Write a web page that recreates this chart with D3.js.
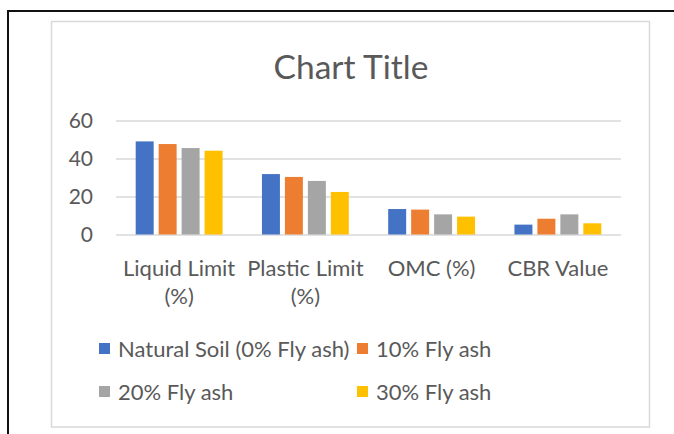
<!DOCTYPE html>
<html>
<head>
<meta charset="utf-8">
<script src="https://cdn.jsdelivr.net/npm/d3@7/dist/d3.min.js"></script>
<style>
  html, body { margin: 0; padding: 0; background: #fff; }
  svg { display: block; font-family: Lato, "Open Sans", sans-serif; }
</style>
</head>
<body>
<svg id="chart" width="674" height="434"></svg>
<script>
// Soil properties with increasing fly ash content
const categories = [["Liquid Limit", "(%)"], ["Plastic Limit", "(%)"], ["OMC (%)"], ["CBR Value"]];
const seriesNames = ["Natural Soil (0% Fly ash)", "10% Fly ash", "20% Fly ash", "30% Fly ash"];
const naturalSoil = [49.0, 31.8, 13.4, 5.2];
const flyAsh10 = [47.6, 30.3, 13.1, 8.3];
const flyAsh20 = [45.5, 28.2, 10.6, 10.6];
const flyAsh30 = [44.1, 22.4, 9.4, 5.9];
const yTicks = [0, 20, 40, 60];
const colors = ["#4472C4", "#ED7D31", "#A5A5A5", "#FFC000"];

const seriesValues = [naturalSoil, flyAsh10, flyAsh20, flyAsh30];
const catKeys = categories.map(c => c.join(" "));
const rows = catKeys.map((k, i) => ({ key: k, lines: categories[i], values: seriesValues.map(s => s[i]) }));

const svg = d3.select("#chart");
const textColor = "#595959";
const labelSize = 22;

// page frame
svg.append("path")
  .attr("d", "M8,434 V11 H674")
  .attr("fill", "none").attr("stroke", "#111").attr("stroke-width", 2);

// chart area border
svg.append("rect")
  .attr("x", 51.5).attr("y", 21.5).attr("width", 598).attr("height", 405.5)
  .attr("fill", "#fff").attr("stroke", "#D9D9D9").attr("stroke-width", 1.5);

// title
svg.append("text")
  .attr("x", 351).attr("y", 79)
  .attr("text-anchor", "middle")
  .attr("fill", textColor)
  .attr("font-size", 33.5)
  .text("Chart Title");

const plot = { left: 116, right: 621, top: 120.5, bottom: 234.5 };

const y = d3.scaleLinear().domain([0, 60]).range([plot.bottom, plot.top]);
const x0 = d3.scaleBand().domain(catKeys).range([plot.left, plot.right])
  .paddingInner(0.312).paddingOuter(0.156);
const x1 = d3.scaleBand().domain(d3.range(seriesNames.length)).range([0, x0.bandwidth()])
  .paddingInner(0.217).paddingOuter(0);

// gridlines and tick labels
const yAxis = d3.axisLeft(y).tickValues(yTicks)
  .tickSize(-(plot.right - plot.left)).tickPadding(23);
const ga = svg.append("g")
  .attr("transform", `translate(${plot.left},0)`)
  .call(yAxis);
ga.select(".domain").remove();
ga.selectAll(".tick line").attr("stroke", "#D9D9D9").attr("stroke-width", 1.5);
ga.selectAll(".tick text")
  .attr("fill", textColor).attr("font-size", 21)
  .attr("font-family", "Lato, sans-serif");

// bars
const groups = svg.append("g").selectAll("g")
  .data(rows).join("g")
  .attr("transform", d => `translate(${x0(d.key)},0)`);
groups.selectAll("rect")
  .data(d => d.values.map((v, i) => ({ v, i })))
  .join("rect")
  .attr("x", d => x1(d.i))
  .attr("width", x1.bandwidth())
  .attr("y", d => y(d.v))
  .attr("height", d => y(0) - y(d.v))
  .attr("fill", d => colors[d.i]);

// category labels
const xl = svg.append("g").selectAll("text")
  .data(rows).join("text")
  .attr("x", d => x0(d.key) + x0.bandwidth() / 2)
  .attr("y", 276)
  .attr("text-anchor", "middle")
  .attr("fill", textColor)
  .attr("font-size", labelSize);
xl.selectAll("tspan")
  .data(d => d.lines.map(l => ({ l, cx: x0(d.key) + x0.bandwidth() / 2 })))
  .join("tspan")
  .attr("x", d => d.cx)
  .attr("dy", (d, i) => i === 0 ? 0 : 28)
  .text(d => d.l);

// legend
const legendPos = [[99, 349], [357, 349], [99, 392], [357, 392]];
const lg = svg.append("g").selectAll("g")
  .data(seriesNames).join("g")
  .attr("transform", (d, i) => `translate(${legendPos[i][0]},${legendPos[i][1]})`);
lg.append("rect").attr("x", 0).attr("y", -6).attr("width", 11).attr("height", 11)
  .attr("fill", (d, i) => colors[i]);
lg.append("text").attr("x", 19).attr("y", 8)
  .attr("fill", textColor).attr("font-size", labelSize)
  .text(d => d);
</script>
</body>
</html>
